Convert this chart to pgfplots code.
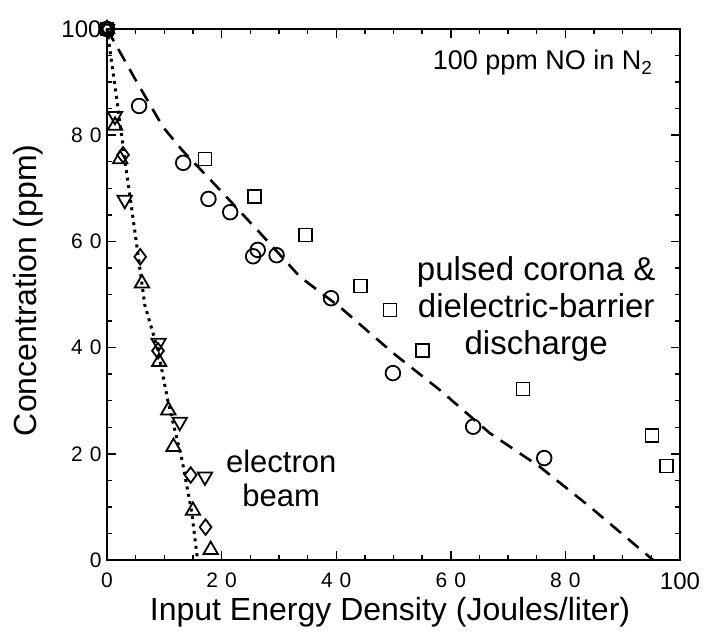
\documentclass[border=0pt]{standalone}
\usepackage{fontspec}
\setmainfont{Liberation Sans}
\usepackage{pgfplots}
\pgfplotsset{compat=1.18}
\newcommand\tl[1]{{\fontsize{21}{24}\selectfont #1}}
\begin{document}
\begin{tikzpicture}
\begin{axis}[
  scale only axis, width=573pt, height=531pt,
  xmin=0, xmax=100, ymin=0, ymax=100,
  xtick={0,20,40,60,80,100}, ytick={0,20,40,60,80,100},
  xticklabels={\tl{0},\tl{2\hspace{7pt}0},\tl{4\hspace{7pt}0},\tl{6\hspace{7pt}0},\tl{8\hspace{7pt}0},{\fontsize{24}{24}\selectfont 100}},
  yticklabels={\tl{0},\tl{2\hspace{7pt}0},\tl{4\hspace{7pt}0},\tl{6\hspace{7pt}0},\tl{8\hspace{7pt}0},{\fontsize{24}{24}\selectfont 100}},
  minor tick num=3,
  tick align=inside,
  xtick pos=both, ytick pos=both,
  major tick length=9pt, minor tick length=5pt,
  axis line style={line width=1.8pt, black},
  every tick/.style={black, line width=1.4pt},
  /pgf/number format/assume math mode=true,
  xticklabel style={yshift=-9pt},
  yticklabel style={xshift=-2pt},
  label style={font=\fontsize{32}{36}\selectfont},
  xlabel={Input Energy Density (Joules/liter)},
  ylabel={Concentration (ppm)},
  xlabel style={at={(axis description cs:0.494,-0.098)}, anchor=center},
  ylabel style={at={(axis description cs:-0.138,0.508)}, anchor=center, rotate=0},
  clip=false,
]
% fitted curves
\addplot[black, line width=2.6pt, dash pattern=on 14pt off 9pt] coordinates {
  (0,100) (1.4,97.3) (5,90.4) (9.8,81.5) (13.1,77.2) (19.7,69.7) (26.7,61.6)
  (33.7,53.3) (40.7,47.6) (49.9,39) (58.1,32) (66.8,23.9) (75.6,17.5) (84.3,10) (95.3,0)};
\addplot[black, line width=3pt, dash pattern=on 3pt off 4.5pt] coordinates {
  (0,100) (1.7,86.8) (3.1,75.5) (4.9,61.6) (6.6,48) (8.9,39.5) (10.6,30.1)
  (13.1,18.8) (14.8,8.9) (15.8,0)};
% pulsed corona: circles
\addplot[only marks, mark=o, mark size=7.3pt, mark options={line width=1.8pt, black}] coordinates {
  (0,100) (5.6,85.5) (13.3,74.8) (17.7,68) (21.5,65.5) (25.5,57.2) (26.3,58.4)
  (29.6,57.4) (39.1,49.3) (49.9,35.2) (63.9,25.1) (76.3,19.2)};
% dielectric barrier: squares
\addplot[only marks, mark=square, mark size=6.5pt, mark options={line width=1.8pt, black}] coordinates {
  (0,100) (17.1,75.5) (25.8,68.5) (34.7,61.2) (44.3,51.6) (49.4,47.1) (55.1,39.4)
  (72.6,32.2) (95.1,23.4) (97.6,17.7)};
% electron beam: down triangles
\addplot[only marks, mark=triangle, mark size=8.3pt, mark options={line width=1.8pt, black, rotate=180}] coordinates {
  (0,100) (1.4,83.6) (3.1,67.8) (9.0,40.9) (12.7,26) (17.1,15.7)};
% electron beam: diamonds
\addplot[only marks, mark=diamond, mark size=7.8pt, mark options={line width=1.8pt, black}] coordinates {
  (0,100) (2.8,76.3) (5.8,57.1) (8.9,39.4) (14.6,16) (17.2,6.2)};
% electron beam: up triangles
\addplot[only marks, mark=triangle, mark size=8.3pt, mark options={line width=1.8pt, black}] coordinates {
  (0,100) (1.4,81.8) (2.3,75.5) (6.1,52.1) (9.1,37.3) (10.7,28.2) (11.6,21.3) (15,9.3) (18.1,1.9)};
\node[anchor=east, font=\fontsize{27}{30}\selectfont] at (axis cs:95.8,93.6) {100 ppm NO in N\textsubscript{2}};
\node[align=center, font=\fontsize{33}{37}\selectfont] at (axis cs:74.9,47.3) {pulsed corona \&\\dielectric-barrier\\discharge};
\node[align=center, font=\fontsize{31}{34}\selectfont] at (axis cs:30.4,15.4) {electron\\beam};
\end{axis}
\path ([shift={(-107pt,-75pt)}]current axis.south west) rectangle ([shift={(28pt,29pt)}]current axis.north east);
\end{tikzpicture}
\end{document}
